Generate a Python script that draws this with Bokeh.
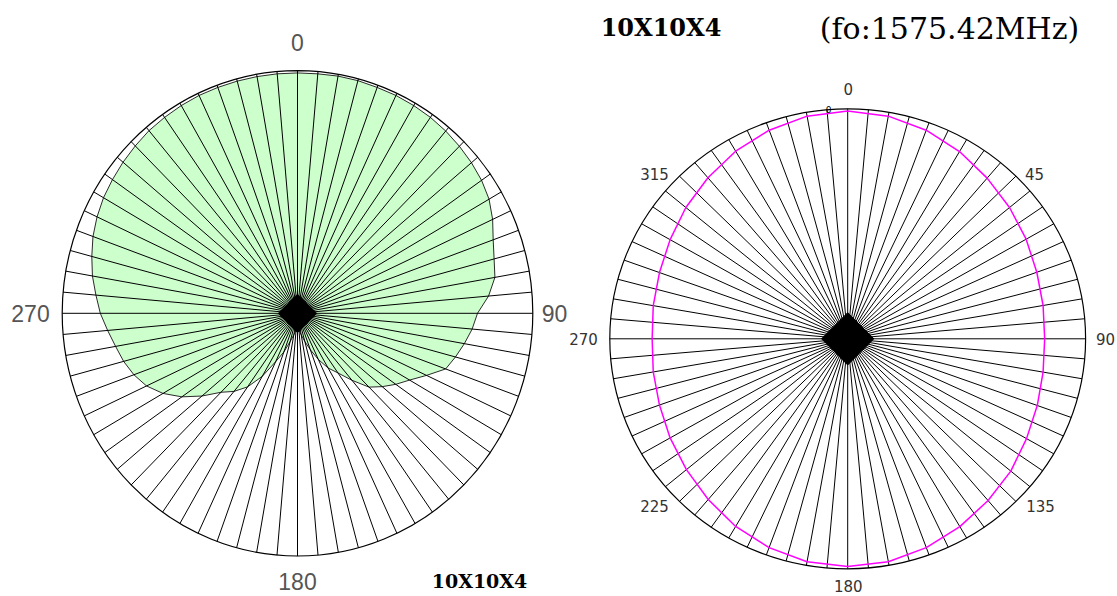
import numpy as np
from bokeh.plotting import figure
from bokeh.layouts import row
from bokeh.models import Label, Range1d
from bokeh.embed import file_html
from bokeh.resources import INLINE

# ---------------- data ----------------
spoke_angles = list(range(0, 360, 5))          # radial grid lines every 5 degrees

green_angles = list(range(0, 360, 5))
green_r = [0.99, 0.99, 0.992, 0.992, 0.99, 0.99, 0.988, 0.985, 0.98, 0.973,
           0.965, 0.955, 0.94, 0.915, 0.885, 0.865, 0.852, 0.815, 0.765, 0.745,
           0.72, 0.695, 0.67, 0.605, 0.55, 0.51, 0.47, 0.43, 0.36, 0.30,
           0.26, 0.21, 0.16, 0.12, 0.09, 0.07, 0.06, 0.07, 0.09, 0.12,
           0.17, 0.22, 0.30, 0.37, 0.42, 0.46, 0.53, 0.60, 0.66, 0.708,
           0.74, 0.765, 0.785, 0.81, 0.838, 0.86, 0.885, 0.905, 0.925, 0.94,
           0.952, 0.96, 0.968, 0.975, 0.982, 0.985, 0.988, 0.99, 0.99, 0.99,
           0.99, 0.99]

magenta_angles = list(range(0, 360, 10))
magenta_r = [0.99, 0.983, 0.965, 0.94, 0.912, 0.888, 0.866, 0.846, 0.834, 0.828,
             0.834, 0.848, 0.868, 0.895, 0.918, 0.943, 0.966, 0.984, 0.99, 0.984,
             0.966, 0.942, 0.912, 0.885, 0.862, 0.842, 0.83, 0.822, 0.83, 0.842,
             0.862, 0.888, 0.914, 0.942, 0.965, 0.983]

left_ticks = ["0", "90", "180", "270"]
right_ticks = ["0", "45", "90", "135", "180", "225", "270", "315"]
radial_tick = "0"
title_model = "10X10X4"
title_freq = "(fo:1575.42MHz)"
left_caption = "10X10X4"


def polar(angles_deg, radii):
    a = np.radians(np.asarray(angles_deg, dtype=float))
    r = np.asarray(radii, dtype=float)
    return r * np.sin(a), r * np.cos(a)


def make_fig(width, height, cx, cy, rx, ry):
    # cx, cy: centre in canvas pixels; rx, ry: pixels per unit radius
    p = figure(width=width, height=height, output_backend="svg",
               toolbar_location=None, x_axis_type=None, y_axis_type=None,
               x_range=Range1d(-cx / rx, (width - cx) / rx),
               y_range=Range1d(-(height - cy) / ry, cy / ry),
               min_border=0, outline_line_color=None)
    p.grid.visible = False
    return p


def spokes(p):
    xs, ys = polar(spoke_angles, [1.0] * len(spoke_angles))
    p.segment(x0=0, y0=0, x1=xs, y1=ys, line_color="black", line_width=1)
    p.ellipse(x=0, y=0, width=2, height=2, fill_color=None,
              line_color="black", line_width=1.2)


H = 596
# ---------------- left plot ----------------
L_X0, L_W = 0, 568
L_cx, L_cy, L_rx, L_ry = 297, 312.8, 235.3, 242.8
pl = make_fig(L_W, H, L_cx - L_X0, L_cy, L_rx, L_ry)

gx, gy = polar(green_angles, green_r)
pl.patch(x=gx, y=gy, fill_color="#ccffcc", line_color="#2a2a2a", line_width=1)
spokes(pl)
pl.scatter(x=[0], y=[0], marker="square", size=27, angle=np.pi / 4,
           fill_color="black", line_color="black")


def lab_l(p, text, px, py, **kw):
    x = (px - L_cx) / L_rx
    y = (L_cy - py) / L_ry
    kw.setdefault("text_align", "center")
    p.add_layout(Label(x=x, y=y, text=text, text_baseline="middle", **kw))


lfont = dict(text_font="Liberation Sans", text_font_size="23px", text_color="#555555")
lab_l(pl, left_ticks[0], 297, 42, **lfont)
lab_l(pl, left_ticks[1], 554, 313, **lfont)
lab_l(pl, left_ticks[2], 297, 581, **lfont)
lab_l(pl, left_ticks[3], 30, 313, **lfont)
lab_l(pl, left_caption, 479, 580, text_font="DejaVu Serif", text_font_size="19px",
      text_font_style="bold", text_color="black")

# ---------------- right plot ----------------
R_X0, R_W = 568, 549
R_cx, R_cy, R_rx, R_ry = 847.2, 338.3, 237.9, 230.0
pr = make_fig(R_W, H, R_cx - R_X0, R_cy, R_rx, R_ry)
spokes(pr)
mx, my = polar(magenta_angles + [magenta_angles[0]], magenta_r + [magenta_r[0]])
pr.line(x=mx, y=my, line_color="#ff00ff", line_width=1.5)
pr.scatter(x=[0], y=[0], marker="square", size=37, angle=np.pi / 4,
           fill_color="black", line_color="black")


def lab_r(p, text, px, py, **kw):
    x = (px - R_cx) / R_rx
    y = (R_cy - py) / R_ry
    kw.setdefault("text_align", "center")
    p.add_layout(Label(x=x, y=y, text=text, text_baseline="middle", **kw))


rfont = dict(text_font="DejaVu Sans", text_font_size="15px", text_color="#333333")
rpos = [(847.7, 88.5), (1034, 173), (1105, 338), (1040, 505.5),
        (847.7, 585), (654, 505.5), (583, 338), (654, 173)]
for t, pos in zip(right_ticks, rpos):
    lab_r(pr, t, pos[0], pos[1], **rfont)
lab_r(pr, radial_tick, 828, 109, text_font="DejaVu Sans", text_font_size="9px",
      text_color="black")
lab_r(pr, title_model, 660.5, 27, text_font="DejaVu Serif", text_font_size="24px",
      text_font_style="bold", text_color="black")
lab_r(pr, title_freq, 949, 28, text_font="DejaVu Serif", text_font_size="30px",
      text_color="black")

layout = row(pl, pr)
open("out.html", "w").write(file_html(layout, INLINE))
